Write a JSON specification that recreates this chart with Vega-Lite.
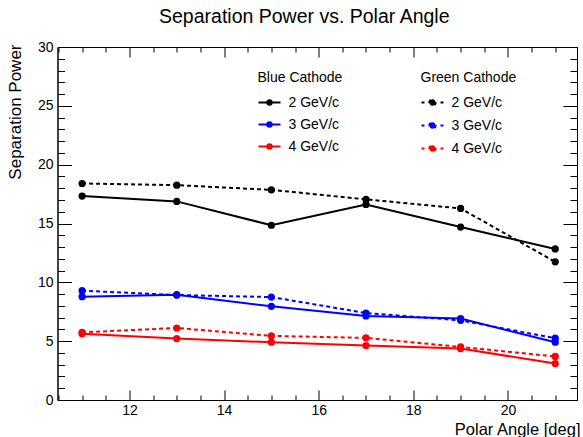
{
  "$schema": "https://vega.github.io/schema/vega-lite/v6.json",
  "width": 519.5,
  "height": 353,
  "autosize": {"type": "none"},
  "padding": {"left": 57.5, "top": 47, "right": 6, "bottom": 37},
  "background": "white",
  "title": {"text": "Separation Power vs. Polar Angle", "fontSize": 19.5, "font": "Liberation Sans", "fontWeight": "normal", "color": "black", "frame": "group", "anchor": "middle", "baseline": "alphabetic", "offset": 4, "dx": -13, "dy": 6},
  "config": {
    "view": {"stroke": "black", "strokeWidth": 1},
    "font": "Liberation Sans",
    "axis": {"grid": false, "domainColor": "black", "tickColor": "black", "labelColor": "black", "titleColor": "black", "labelFont": "Liberation Sans", "titleFont": "Liberation Sans", "titleFontWeight": "normal", "labelFlush": false, "labelOverlap": false, "tickWidth": 1, "domainWidth": 1},
    "legend": {"titleFont": "Liberation Sans", "labelFont": "Liberation Sans", "titleFontWeight": "normal", "titleColor": "black", "labelColor": "black"}
  },
  "data": {"values": [
    {"angle": 11, "power": 17.33, "momentum": "2 GeV/c", "cathode": "Blue"},
    {"angle": 13, "power": 16.88, "momentum": "2 GeV/c", "cathode": "Blue"},
    {"angle": 15, "power": 14.85, "momentum": "2 GeV/c", "cathode": "Blue"},
    {"angle": 17, "power": 16.62, "momentum": "2 GeV/c", "cathode": "Blue"},
    {"angle": 19, "power": 14.70, "momentum": "2 GeV/c", "cathode": "Blue"},
    {"angle": 21, "power": 12.84, "momentum": "2 GeV/c", "cathode": "Blue"},
    {"angle": 11, "power": 8.78, "momentum": "3 GeV/c", "cathode": "Blue"},
    {"angle": 13, "power": 8.95, "momentum": "3 GeV/c", "cathode": "Blue"},
    {"angle": 15, "power": 7.96, "momentum": "3 GeV/c", "cathode": "Blue"},
    {"angle": 17, "power": 7.14, "momentum": "3 GeV/c", "cathode": "Blue"},
    {"angle": 19, "power": 6.92, "momentum": "3 GeV/c", "cathode": "Blue"},
    {"angle": 21, "power": 4.91, "momentum": "3 GeV/c", "cathode": "Blue"},
    {"angle": 11, "power": 5.63, "momentum": "4 GeV/c", "cathode": "Blue"},
    {"angle": 13, "power": 5.22, "momentum": "4 GeV/c", "cathode": "Blue"},
    {"angle": 15, "power": 4.91, "momentum": "4 GeV/c", "cathode": "Blue"},
    {"angle": 17, "power": 4.63, "momentum": "4 GeV/c", "cathode": "Blue"},
    {"angle": 19, "power": 4.37, "momentum": "4 GeV/c", "cathode": "Blue"},
    {"angle": 21, "power": 3.10, "momentum": "4 GeV/c", "cathode": "Blue"},
    {"angle": 11, "power": 18.40, "momentum": "2 GeV/c", "cathode": "Green"},
    {"angle": 13, "power": 18.26, "momentum": "2 GeV/c", "cathode": "Green"},
    {"angle": 15, "power": 17.86, "momentum": "2 GeV/c", "cathode": "Green"},
    {"angle": 17, "power": 17.05, "momentum": "2 GeV/c", "cathode": "Green"},
    {"angle": 19, "power": 16.28, "momentum": "2 GeV/c", "cathode": "Green"},
    {"angle": 21, "power": 11.74, "momentum": "2 GeV/c", "cathode": "Green"},
    {"angle": 11, "power": 9.29, "momentum": "3 GeV/c", "cathode": "Green"},
    {"angle": 13, "power": 8.92, "momentum": "3 GeV/c", "cathode": "Green"},
    {"angle": 15, "power": 8.75, "momentum": "3 GeV/c", "cathode": "Green"},
    {"angle": 17, "power": 7.39, "momentum": "3 GeV/c", "cathode": "Green"},
    {"angle": 19, "power": 6.77, "momentum": "3 GeV/c", "cathode": "Green"},
    {"angle": 21, "power": 5.25, "momentum": "3 GeV/c", "cathode": "Green"},
    {"angle": 11, "power": 5.75, "momentum": "4 GeV/c", "cathode": "Green"},
    {"angle": 13, "power": 6.12, "momentum": "4 GeV/c", "cathode": "Green"},
    {"angle": 15, "power": 5.45, "momentum": "4 GeV/c", "cathode": "Green"},
    {"angle": 17, "power": 5.28, "momentum": "4 GeV/c", "cathode": "Green"},
    {"angle": 19, "power": 4.51, "momentum": "4 GeV/c", "cathode": "Green"},
    {"angle": 21, "power": 3.70, "momentum": "4 GeV/c", "cathode": "Green"}
  ]},
  "layer": [
    {
      "transform": [{"filter": "datum.cathode === 'Blue'"}],
      "mark": {"type": "line", "strokeWidth": 2, "point": {"filled": true, "size": 52, "opacity": 1}},
      "encoding": {
        "x": {"field": "angle", "type": "quantitative", "scale": {"domain": [10.48, 21.46], "nice": false, "zero": false},
          "axis": {"orient": "bottom", "values": [10.5, 11, 11.5, 12, 12.5, 13, 13.5, 14, 14.5, 15, 15.5, 16, 16.5, 17, 17.5, 18, 18.5, 19, 19.5, 20, 20.5, 21],
            "labelExpr": "datum.value % 2 === 0 ? format(datum.value, 'd') : ''",
            "tickSize": {"condition": {"test": "datum.value % 2 === 0", "value": -10}, "value": -5},
            "labelPadding": 13, "labelFontSize": 14,
            "title": "Polar Angle [deg]", "titleFontSize": 16.5, "titleX": 522.5, "titleY": 34, "titleAlign": "right", "titleBaseline": "alphabetic", "titleAnchor": "end"}},
        "y": {"field": "power", "type": "quantitative", "scale": {"domain": [0, 30], "nice": false},
          "axis": {"orient": "left", "values": [0,1,2,3,4,5,6,7,8,9,10,11,12,13,14,15,16,17,18,19,20,21,22,23,24,25,26,27,28,29,30],
            "labelExpr": "datum.value % 5 === 0 ? format(datum.value, 'd') : ''",
            "tickSize": {"condition": {"test": "datum.value % 5 === 0", "value": -14}, "value": -7},
            "labelPadding": 18.5, "labelFontSize": 14,
            "title": "Separation Power", "titleFontSize": 17, "titleAngle": -90, "titleX": -42.5, "titleY": -3, "titleAlign": "right", "titleBaseline": "middle", "titleAnchor": "end"}},
        "color": {"field": "momentum", "type": "nominal",
          "scale": {"domain": ["2 GeV/c", "3 GeV/c", "4 GeV/c"], "range": ["#000000", "#0000ff", "#ff0000"]},
          "legend": {"title": "Blue Cathode", "orient": "none", "legendX": 200, "legendY": 23.5, "direction": "vertical",
            "titleFontSize": 14, "titlePadding": 6, "labelFontSize": 14, "labelOffset": 7,
            "symbolType": "M-1,0L1,0M-0.2,0A0.2,0.2 0 1,1 0.2,0A0.2,0.2 0 1,1 -0.2,0Z",
            "symbolSize": 484, "symbolStrokeWidth": 2, "rowPadding": 3, "padding": 0,
            "encode": {"symbols": {"update": {"fill": {"scale": "color", "field": "value"}, "stroke": {"scale": "color", "field": "value"}, "opacity": {"value": 1}}}}}}
      }
    },
    {
      "transform": [{"filter": "datum.cathode === 'Green'"}],
      "mark": {"type": "line", "strokeWidth": 2, "strokeDash": [4, 3]},
      "encoding": {
        "x": {"field": "angle", "type": "quantitative",
          "axis": {"orient": "top", "values": [10.5, 11, 11.5, 12, 12.5, 13, 13.5, 14, 14.5, 15, 15.5, 16, 16.5, 17, 17.5, 18, 18.5, 19, 19.5, 20, 20.5, 21],
            "labels": false, "title": null,
            "tickSize": {"condition": {"test": "datum.value % 2 === 0", "value": -10}, "value": -5}}},
        "y": {"field": "power", "type": "quantitative",
          "axis": {"orient": "right", "values": [0,1,2,3,4,5,6,7,8,9,10,11,12,13,14,15,16,17,18,19,20,21,22,23,24,25,26,27,28,29,30],
            "labels": false, "title": null,
            "tickSize": {"condition": {"test": "datum.value % 5 === 0", "value": -14}, "value": -7}}},
        "stroke": {"field": "momentum", "type": "nominal",
          "scale": {"domain": ["2 GeV/c", "4 GeV/c", "3 GeV/c"], "range": ["#000000", "#ff0000", "#0000ff"]},
          "legend": {"title": "Green Cathode", "orient": "none", "legendX": 363, "legendY": 23.5, "direction": "vertical",
            "values": ["2 GeV/c", "3 GeV/c", "4 GeV/c"],
            "titleFontSize": 14, "titlePadding": 6, "labelFontSize": 14, "labelOffset": 7,
            "symbolType": "M-1,0L1,0M-0.29,0A0.29,0.29 0 1,1 0.29,0A0.29,0.29 0 1,1 -0.29,0Z",
            "symbolSize": 484, "symbolStrokeWidth": 2, "symbolDash": [3, 6.5], "rowPadding": 3, "padding": 0,
            "encode": {"symbols": {"update": {"fill": {"scale": "stroke", "field": "value"}, "stroke": {"scale": "stroke", "field": "value"}, "strokeDash": {"value": [3, 6.5]}, "opacity": {"value": 1}}}}}}
      }
    },
    {
      "transform": [{"filter": "datum.cathode === 'Green'"}],
      "mark": {"type": "point", "filled": true, "size": 52, "opacity": 1},
      "encoding": {
        "x": {"field": "angle", "type": "quantitative", "axis": null},
        "y": {"field": "power", "type": "quantitative", "axis": null},
        "fill": {"field": "momentum", "type": "nominal",
          "scale": {"domain": ["2 GeV/c", "3 GeV/c", "4 GeV/c"], "range": ["#000000", "#0000ff", "#ff0000"]},
          "legend": null}
      }
    }
  ],
  "resolve": {"axis": {"x": "independent", "y": "independent"}}
}
